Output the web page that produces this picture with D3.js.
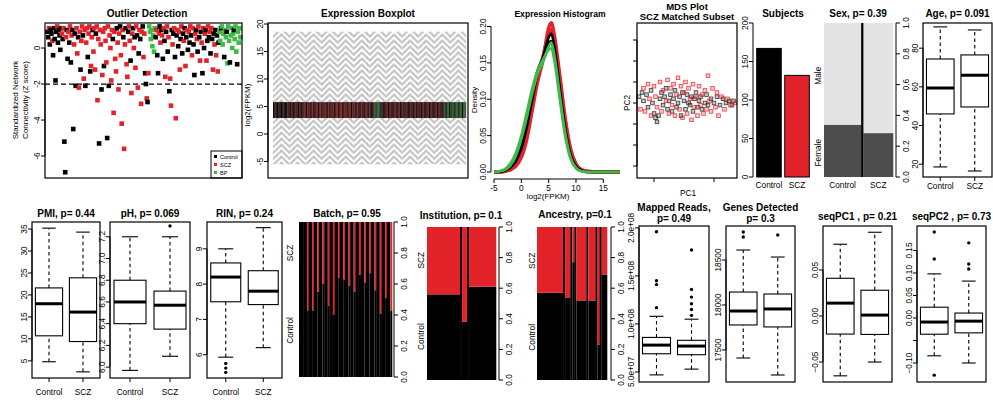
<!DOCTYPE html>
<html>
<head>
<meta charset="utf-8">
<script src="https://cdn.jsdelivr.net/npm/d3@7"></script>
<style>
  body { margin: 0; background: #fff; }
  svg { font-family: "Liberation Sans", Arial, sans-serif; }
</style>
</head>
<body>
<svg width="993" height="400"></svg>
<script>
// ---------- data ----------
const groups = ['Control', 'SCZ'];

// per-sample group (C control, S scz, B bipolar), in plotting order
const sampleGroups = ('CCSCCCSCCCCCSCCCCCSC' + 'SCCSCCSCSCSCCSCCSSCS' + 'SCSSCSSCSSCSSCSSCSSS' +
  'CSSSCSSCSSCSSSCSCSSS' + 'SCSSSSCSSSCSSSCSSCSS' + 'CSSCSSCSCSSCSCSCSSCS' +
  'SCCSCSBBBBBBBBCSCCSC' + 'SCSCSCSCSCSCSSCSCSCS' + 'CSCSSCSCCSCSCSCSCSCS' +
  'SCCSCSCSCSCSCSCSCSCS' + 'CSCSCSCSCSCSCBBCBBBC' + 'BBCBBBCBBBBCBBBCBBBB').split('');

// standardized network connectivity per sample
const zScores = [
  0.9, 0.6, 1.1, 0.2, 1.0, 0.8, 0.4, -0.4, 1.1, 0.5, -1.8, 0.9, 1.2, 0.3, 1.0, 0.7, -0.1, 1.1, 0.8, 0.5,
  1.1, -5.2, -6.9, 0.6, 1.0, -0.6, 0.9, 0.3, 1.2, -0.8, 0.7, 1.0, -4.5, 0.2, 0.8, -2.1, 1.1, -0.3, 0.6, -2.2,
  0.9, -1.2, 0.4, 1.2, 0.7, -1.7, 1.0, -2.1, 0.3, 1.1, -0.5, 0.8, 1.2, -1.3, -1.0, 0.6, 1.0, -0.2, 1.1, -1.2,
  0.8, 1.2, -2.9, 0.5, -5.3, 1.0, 0.2, -2.3, -1.5, 0.9, -1.0, 1.1, 0.4, -0.8, -5.0, 1.2, -2.1, 0.7, 0.0, -1.8,
  1.0, 0.5, -3.6, 0.9, -0.6, -1.3, 1.1, 0.3, -2.3, 0.8, 1.2, -0.4, -4.2, 1.0, 0.6, -5.6, 0.2, 1.1, -0.9, -1.6,
  0.9, 1.2, 0.4, -0.7, -2.5, 0.8, 1.1, 0.0, 0.6, -1.1, 1.2, 0.7, -2.2, -0.3, 1.0, 0.5, -3.1, 0.9, 1.2, -0.5,
  0.8, -1.4, -2.0, -2.8, -3.0, -1.4, 1.2, 0.9, 0.5, 1.0, 0.1, 0.7, -0.2, 1.1, 0.6, 1.0, -0.4, -1.4, 0.8, 1.2,
  0.3, 1.0, 0.7, -0.6, 1.1, 0.4, -1.6, 0.9, 1.2, -0.2, 0.6, -2.4, -1.7, -3.2, 1.0, 0.2, 0.8, 1.1, -0.5, -3.9,
  0.7, 1.0, 0.1, 0.9, -1.2, 0.5, 1.2, -0.3, 0.8, 0.4, 1.1, -1.0, 0.6, 1.0, -0.1, 0.9, 0.3, 1.2, 0.7, -0.4,
  1.1, 0.2, -1.5, 0.8, 1.0, 0.5, -0.2, 1.2, 0.6, -0.7, 0.9, 0.3, -1.4, 1.1, 0.0, 0.8, 1.0, -0.7, 0.4, 1.2,
  0.6, 0.9, -0.3, 1.1, 0.5, -1.2, 0.8, 0.2, 1.0, -0.4, 0.7, -1.3, 0.3, 0.9, 0.4, 1.1, 1.2, 0.2, 0.8, -0.5,
  1.0, 0.6, 0.9, -0.85, 1.2, 0.4, -0.8, 0.7, 1.1, 0.0, 0.8, 1.0, 0.5, 1.2, -0.2, -0.9, 0.9, 0.3, 1.1, 0.6
];

// expression boxplot, same stats for each sample: lo, q1, median, q3, hi (log2 FPKM)
const exprBox = [-5.5, 2.9, 4.4, 5.8, 18.6];

// density curves
const densX = [-5, -4, -3, -2, -1, 0, 1, 2, 3, 4, 5, 5.5, 6, 7, 8, 9, 10, 11, 12, 14, 18];
const densSCZ = [
  [0, 0, 0.001, 0.003, 0.008, 0.02, 0.045, 0.085, 0.125, 0.155, 0.198, 0.205, 0.19, 0.135, 0.075, 0.032, 0.011, 0.003, 0.001, 0, 0],
  [0, 0, 0.001, 0.004, 0.011, 0.026, 0.052, 0.09, 0.13, 0.16, 0.19, 0.196, 0.182, 0.13, 0.072, 0.03, 0.01, 0.003, 0.001, 0, 0]
];
const densControl = [
  [0, 0, 0.002, 0.006, 0.015, 0.032, 0.062, 0.1, 0.135, 0.158, 0.185, 0.19, 0.175, 0.118, 0.062, 0.024, 0.008, 0.002, 0, 0, 0],
  [0, 0.001, 0.003, 0.009, 0.02, 0.04, 0.072, 0.11, 0.14, 0.158, 0.178, 0.18, 0.165, 0.11, 0.057, 0.021, 0.007, 0.002, 0, 0, 0]
];
const densBP = [
  [0, 0.001, 0.003, 0.009, 0.022, 0.045, 0.075, 0.108, 0.135, 0.152, 0.172, 0.178, 0.163, 0.108, 0.055, 0.02, 0.006, 0.001, 0, 0, 0],
  [0, 0.001, 0.004, 0.012, 0.026, 0.05, 0.082, 0.115, 0.14, 0.155, 0.168, 0.17, 0.155, 0.102, 0.05, 0.018, 0.005, 0.001, 0, 0, 0]
];

// MDS (PC1, PC2)
const mdsControl = [[-30,3],[-28,5],[-27,1],[-25,4],[-24,-2],[-22,6],[-21,0],[-20,-5],[-19,-7],[-18,-9],[-17,-6],[-16,2],
  [-15,5],[-14,-1],[-13,3],[-12,7],[-11,-3],[-10,1],[-9,4],[-8,-4],[-7,2],[-6,6],[-5,-2],[-4,0],[-3,3],[-2,-6],[-1,5],
  [0,1],[1,-3],[2,4],[3,0],[4,-1],[5,3],[6,-4],[7,2],[8,5],[9,-2],[10,1],[11,3],[12,-3],[14,0],[15,4],[16,-1],[18,2],
  [20,0],[22,3],[24,-1],[26,2],[28,0],[30,1],[32,-1],[33,1]];
const mdsSCZ = [[-29,-3],[-27,7],[-26,-4],[-24,9],[-23,2],[-22,-6],[-20,8],[-19,3],[-18,-2],[-16,10],[-15,-4],[-14,6],
  [-12,1],[-11,11],[-10,-5],[-9,7],[-8,-1],[-7,9],[-6,-6],[-5,4],[-4,12],[-3,-3],[-2,8],[-1,-7],[0,5],[1,10],[2,-5],
  [3,7],[4,2],[5,-8],[6,9],[7,-2],[8,3],[9,-6],[10,8],[11,-1],[12,4],[13,-5],[14,6],[15,-3],[16,13],[17,1],[18,-4],
  [19,7],[21,-2],[22,5],[23,-6],[25,3],[27,-3],[29,2],[31,-1],[34,0]];

const subjectCounts = [167, 132];
const sexFemaleFrac = [0.34, 0.285];

// boxplot stats: lo whisker, q1, median, q3, hi whisker
const ageControl = [18.6, 46, 59.4, 74.4, 91];
const ageSCZ = [16.5, 49.6, 66, 76.5, 89.4];
const pmiControl = [4.8, 10.7, 18, 21.6, 35.2];
const pmiSCZ = [2.5, 9.4, 16.1, 23.9, 34.3];
const phControl = [5.97, 6.4, 6.6, 6.8, 7.2];
const phSCZ = [6.1, 6.35, 6.57, 6.7, 7.2];
const phOutSCZ = [7.3];
const rinControl = [5.93, 7.5, 8.2, 8.6, 9.0];
const rinSCZ = [6.2, 7.42, 7.8, 8.38, 9.6];
const rinOutControl = [5.75, 5.62, 5.5];
const readsControl = [4.7e7, 6.9e7, 7.8e7, 8.6e7, 1.08e8];
const readsSCZ = [5.3e7, 6.8e7, 7.7e7, 8.3e7, 1.05e8];
const readsOutControl = [1.17e8, 1.41e8, 1.45e8, 1.96e8];
const readsOutSCZ = [1.09e8, 1.15e8, 1.21e8, 1.28e8, 1.36e8, 1.77e8];
const genesControl = [17411, 17778, 17933, 18144, 18611];
const genesSCZ = [17222, 17756, 17956, 18122, 18533];
const genesOutControl = [18811, 18756];
const genesOutSCZ = [18778];
const pc1Control = [-0.065, -0.0196, 0.014, 0.041, 0.078];
const pc1SCZ = [-0.05, -0.02, 0.001, 0.028, 0.091];
const pc2Control = [-0.084, -0.036, -0.009, 0.024, 0.098];
const pc2SCZ = [-0.1, -0.033, -0.007, 0.011, 0.082];
const pc2OutControl = [0.191, 0.131, -0.127];
const pc2OutSCZ = [0.167, 0.12, 0.109];

// spineplots: group sizes and fraction of controls
const batchSizes = [42, 14, 16, 15, 17, 15, 16, 14, 17, 15, 16, 18, 15, 14, 16, 17, 15, 16];
const batchCtrlFrac = [1.0, 0.43, 0.43, 0.55, 0.6, 0.46, 0.40, 0.64, 0.63, 0.59, 0.55, 0.66, 0.61, 0.67, 0.56, 0.41, 0.51, 0.43];
const instSizes = [152, 23, 124];
const instCtrlFrac = [0.56, 0.38, 0.61];
const ancSizes = [134, 27, 11, 51, 37, 11, 27];
const ancCtrlFrac = [0.57, 0.54, 0.77, 0.52, 0.52, 0.23, 0.69];

// ---------- drawing ----------
const svg = d3.select('svg');
const red = '#e3232a', green = '#3dbb46';
const grpColor = {C: '#000', S: red, B: green};
const TICK_FONT = 8.3;

function title(lines, cx, y, size) {
  lines.forEach((t, k) => svg.append('text')
    .attr('x', cx).attr('y', y + k * size * 1.12)
    .attr('text-anchor', 'middle').attr('font-weight', 'bold').attr('font-size', size)
    .text(t));
}

function frame(x0, y0, x1, y1) {
  svg.append('rect').attr('x', x0).attr('y', y0).attr('width', x1 - x0).attr('height', y1 - y0)
    .attr('fill', 'none').attr('stroke', '#000').attr('stroke-width', 1.2);
}

// R style axis: rotated labels, line only between outer ticks
function yAxis(scale, x, ticks, fmt, side) {
  const g = svg.append('g');
  g.append('line').attr('x1', x).attr('x2', x)
    .attr('y1', scale(d3.min(ticks))).attr('y2', scale(d3.max(ticks)))
    .attr('stroke', '#000');
  g.selectAll('line.tk').data(ticks).join('line').attr('class', 'tk')
    .attr('x1', x).attr('x2', x + side * 4)
    .attr('y1', d => scale(d)).attr('y2', d => scale(d))
    .attr('stroke', '#000');
  if (!fmt) return;
  g.selectAll('text').data(ticks).join('text')
    .attr('transform', d => `translate(${side < 0 ? x - 5.5 : x + 13},${scale(d)}) rotate(-90)`)
    .attr('text-anchor', 'middle').attr('font-size', TICK_FONT)
    .text(fmt);
}

function vlabel(text, x, y, size) {
  svg.append('text').attr('transform', `translate(${x},${y}) rotate(-90)`)
    .attr('text-anchor', 'middle').attr('font-size', size).text(text);
}

function boxPanel(o) {
  const x = d3.scaleLinear().domain([0.5, 2.5]).range([o.x0, o.x1]);
  const y = d3.scaleLinear().domain(o.domain).range([o.y1, o.y0]);
  const hw = x(1.4) - x(1);
  const g = svg.append('g');
  o.stats.forEach((s, k) => {
    const cx = x(k + 1);
    [[s[0], s[1]], [s[3], s[4]]].forEach(([a, b]) => g.append('line')
      .attr('x1', cx).attr('x2', cx).attr('y1', y(a)).attr('y2', y(b))
      .attr('stroke', '#000').attr('stroke-width', 1.1).attr('stroke-dasharray', '3.5,3'));
    [s[0], s[4]].forEach(v => g.append('line')
      .attr('x1', cx - hw / 2).attr('x2', cx + hw / 2).attr('y1', y(v)).attr('y2', y(v))
      .attr('stroke', '#000').attr('stroke-width', 1.1));
    g.append('rect').attr('x', cx - hw).attr('width', 2 * hw)
      .attr('y', y(s[3])).attr('height', y(s[1]) - y(s[3]))
      .attr('fill', '#fff').attr('stroke', '#000').attr('stroke-width', 1.1);
    g.append('line').attr('x1', cx - hw).attr('x2', cx + hw).attr('y1', y(s[2])).attr('y2', y(s[2]))
      .attr('stroke', '#000').attr('stroke-width', 3);
    g.selectAll(null).data(o.outs ? o.outs[k] : []).join('circle')
      .attr('cx', cx).attr('cy', d => y(d)).attr('r', 1.7).attr('fill', '#000');
  });
  frame(o.x0, o.y0, o.x1, o.y1);
  yAxis(y, o.x0, o.ticks, o.fmt, -1);
  if (o.labelY) {
    groups.forEach((gname, k) => {
      g.append('line').attr('x1', x(k + 1)).attr('x2', x(k + 1)).attr('y1', o.y1).attr('y2', o.y1 + 4).attr('stroke', '#000');
      g.append('text').attr('x', x(k + 1)).attr('y', o.labelY).attr('text-anchor', 'middle')
        .attr('font-size', TICK_FONT).text(gname);
    });
  }
  title(o.title, (o.x0 + o.x1) / 2, o.titleY, 10);
}

function spinePanel(o) {
  const y = d3.scaleLinear().domain([0, 1]).range([o.y1, o.y0]);
  const total = d3.sum(o.sizes);
  const w = d3.scaleLinear().domain([0, total]).range([0, (o.x1 - o.x0) - o.gap * (o.sizes.length - 1)]);
  const starts = [0, ...d3.cumsum(o.sizes)];
  const g = svg.append('g');
  o.sizes.forEach((s, i) => {
    const left = o.x0 + w(starts[i]) + i * o.gap;
    const wid = w(s);
    g.append('rect').attr('x', left).attr('width', wid + 0.3)
      .attr('y', y(o.fracs[i])).attr('height', o.y1 - y(o.fracs[i])).attr('fill', o.colors[0]);
    g.append('rect').attr('x', left).attr('width', wid + 0.3)
      .attr('y', o.y0).attr('height', y(o.fracs[i]) - o.y0).attr('fill', o.colors[1]);
    if (i < o.sizes.length - 1)
      g.append('rect').attr('x', left + wid).attr('width', o.gap)
        .attr('y', o.y0).attr('height', o.y1 - o.y0).attr('fill', '#000');
    if (o.cats) g.append('text').attr('x', left + wid / 2).attr('y', o.catY).attr('text-anchor', 'middle')
      .attr('font-size', TICK_FONT).text(o.cats[i]);
  });
  yAxis(y, o.axisX, [0, 0.2, 0.4, 0.6, 0.8, 1.0], d3.format('.1f'), 1);
  const overall = d3.sum(o.sizes, (s, i) => s * o.fracs[i]) / total;
  vlabel(o.levels[0], o.labelX, (y(overall) + o.y1) / 2, TICK_FONT);
  vlabel(o.levels[1], o.labelX, (y(overall) + o.y0) / 2, TICK_FONT);
  title(o.title, o.titleX, o.titleY, 10);
}

// ---- Outlier Detection ----
{
  const x = d3.scaleLinear().domain([-3, sampleGroups.length + 1]).range([45, 242]);
  const y = d3.scaleLinear().domain([-7.22, 1.39]).range([178, 23]);
  svg.append('line').attr('x1', 45).attr('x2', 242).attr('y1', y(-2)).attr('y2', y(-2))
    .attr('stroke', '#000').attr('stroke-width', 1.3).attr('stroke-dasharray', '5,3');
  svg.append('g').selectAll('rect').data(zScores).join('rect')
    .attr('x', (d, i) => x(i) - 2.3).attr('y', d => y(d) - 2.3).attr('width', 4.6).attr('height', 4.6)
    .attr('fill', (d, i) => grpColor[sampleGroups[i]]);
  const lg = svg.append('g').attr('transform', 'translate(211,151)');
  lg.append('rect').attr('width', 31).attr('height', 27).attr('fill', '#fff').attr('stroke', '#000');
  [['Control', '#000'], ['SCZ', red], ['BP', green]].forEach(([t, c], k) => {
    lg.append('rect').attr('x', 3).attr('y', 4 + k * 8).attr('width', 3).attr('height', 3).attr('fill', c);
    lg.append('text').attr('x', 9).attr('y', 7.5 + k * 8).attr('font-size', 5.5).text(t);
  });
  frame(45, 23, 242, 178);
  yAxis(y, 45, [-6, -4, -2, 0], d => d, -1);
  vlabel('Standardized Network', 18, 100, 8);
  vlabel('Connectivity (Z score)', 28, 100, 8);
  title(['Outlier Detection'], 147, 17, 10);
}

// ---- Expression Boxplot ----
{
  const x = d3.scaleBand().domain(d3.range(sampleGroups.length)).range([273, 466]);
  const y = d3.scaleLinear().domain([-8.0, 20.18]).range([178, 23]);
  const fills = {C: '#080404', S: '#5e1414', B: '#1f4a22'};
  const g = svg.append('g');
  sampleGroups.forEach((grp, i) => {
    const cx = x(i) + x.bandwidth() / 2;
    const off = Math.abs((i % 20) - 10) * 0.8;
    [[exprBox[0], exprBox[1]], [exprBox[3], exprBox[4]]].forEach(([a, b]) => g.append('line')
      .attr('x1', cx).attr('x2', cx).attr('y1', y(a)).attr('y2', y(b))
      .attr('stroke', '#a3a3a3').attr('stroke-width', 0.6)
      .attr('stroke-dasharray', '3,3').attr('stroke-dashoffset', off));
    g.append('rect').attr('x', x(i)).attr('width', x.bandwidth() + 0.2)
      .attr('y', y(exprBox[3])).attr('height', y(exprBox[1]) - y(exprBox[3]))
      .attr('fill', fills[grp]);
  });
  frame(268, 23, 468, 178);
  yAxis(y, 268, [-5, 0, 5, 10, 15, 20], d => d, -1);
  vlabel('log2(FPKM)', 250, 105, 8);
  title(['Expression Boxplot'], 368, 17, 10);
}

// ---- Expression Histogram ----
{
  const x = d3.scaleLinear().domain([-5, 15]).range([494, 603.3]);
  const y = d3.scaleLinear().domain([0, 0.2]).range([172, 26.5]);
  const line = d3.line().x((d, i) => x(densX[i])).y(d => y(d)).curve(d3.curveMonotoneX);
  const g = svg.append('g').attr('fill', 'none');
  densSCZ.forEach(c => g.append('path').attr('d', line(c)).attr('stroke', red).attr('stroke-width', 3.5));
  densControl.forEach(c => g.append('path').attr('d', line(c)).attr('stroke', '#000').attr('stroke-width', 2.6));
  densBP.forEach(c => g.append('path').attr('d', line(c)).attr('stroke', green).attr('stroke-width', 2.6));
  yAxis(y, 491, [0, 0.05, 0.1, 0.15, 0.2], d3.format('.2f'), -1);
  const ax = svg.append('g');
  ax.append('line').attr('x1', x(-5)).attr('x2', x(15)).attr('y1', 179).attr('y2', 179).attr('stroke', '#000');
  [-5, 0, 5, 10, 15].forEach(t => {
    ax.append('line').attr('x1', x(t)).attr('x2', x(t)).attr('y1', 179).attr('y2', 183).attr('stroke', '#000');
    ax.append('text').attr('x', x(t)).attr('y', 190.5).attr('text-anchor', 'middle').attr('font-size', TICK_FONT).text(t);
  });
  vlabel('Density', 477, 100, 8);
  svg.append('text').attr('x', 548).attr('y', 198.5).attr('text-anchor', 'middle').attr('font-size', 8).text('log2(FPKM)');
  title(['Expression Histogram'], 560, 17, 8.6);
}

// ---- MDS Plot ----
{
  const x = d3.scaleLinear().domain([-20, 20]).range([654, 714]);
  const y = d3.scaleLinear().domain([-30, 30]).range([166, 40]);
  const g = svg.append('g');
  [[mdsControl, '#1a1a1a'], [mdsSCZ, red]].forEach(([pts, c]) => {
    g.selectAll(null).data(pts).join('rect')
      .attr('x', d => x(d[0]) - 1.8).attr('y', d => y(d[1]) - 1.8).attr('width', 3.6).attr('height', 3.6)
      .attr('fill', c).attr('fill-opacity', 0.25).attr('stroke', c).attr('stroke-opacity', 0.85).attr('stroke-width', 0.8);
  });
  frame(637, 23, 737, 178);
  yAxis(y, 637, [-30, -20, -10, 0, 10, 20, 30], null, -1);
  [-20, 20].forEach(t => svg.append('line').attr('x1', x(t)).attr('x2', x(t)).attr('y1', 178).attr('y2', 182).attr('stroke', '#000'));
  svg.append('text').attr('x', 688).attr('y', 196).attr('text-anchor', 'middle').attr('font-size', 8.3).text('PC1');
  vlabel('PC2', 630, 103, 8.3);
  title(['MDS Plot', 'SCZ Matched Subset'], 687, 9.5, 9.5);
}

// ---- Subjects ----
{
  const x = d3.scaleBand().domain(groups).range([755, 811]).paddingInner(0.125).paddingOuter(0.06);
  const y = d3.scaleLinear().domain([0, 200]).range([177, 23]);
  svg.append('g').selectAll('rect').data(subjectCounts).join('rect')
    .attr('x', (d, i) => x(groups[i])).attr('width', x.bandwidth())
    .attr('y', d => y(d)).attr('height', d => y(0) - y(d))
    .attr('fill', (d, i) => i ? red : '#000').attr('stroke', '#000');
  groups.forEach(gname => svg.append('text').attr('x', x(gname) + x.bandwidth() / 2).attr('y', 188)
    .attr('text-anchor', 'middle').attr('font-size', TICK_FONT).text(gname));
  yAxis(y, 753, [0, 50, 100, 150, 200], d => d, -1);
  title(['Subjects'], 783, 17, 10);
}

// ---- Sex ----
spinePanel({x0: 824, x1: 893, y0: 23, y1: 177, sizes: subjectCounts, fracs: sexFemaleFrac, gap: 2.5,
  colors: ['#4d4d4d', '#e4e4e4'], levels: ['Female', 'Male'], labelX: 821, axisX: 896,
  cats: groups, catY: 188, title: ['Sex, p= 0.39'], titleX: 858, titleY: 17});

// ---- Age ----
boxPanel({x0: 923, x1: 992, y0: 23, y1: 177, domain: [13.4, 93.0], ticks: [20, 40, 60, 80], fmt: d => d,
  stats: [ageControl, ageSCZ], labelY: 188.5, title: ['Age, p= 0.091'], titleY: 17});

// ---- Row 2 boxplots ----
boxPanel({x0: 32, x1: 100, y0: 222, y1: 378, domain: [1.1, 36.6], ticks: [5, 10, 15, 20, 25, 30, 35], fmt: d => d,
  stats: [pmiControl, pmiSCZ], labelY: 395, title: ['PMI, p= 0.44'], titleY: 217});
boxPanel({x0: 110, x1: 190, y0: 222, y1: 378, domain: [5.9, 7.336], ticks: [6.0, 6.2, 6.4, 6.6, 6.8, 7.0, 7.2],
  fmt: d3.format('.1f'), stats: [phControl, phSCZ], outs: [[], phOutSCZ], labelY: 395,
  title: ['pH, p= 0.069'], titleY: 217});
boxPanel({x0: 207, x1: 282, y0: 222, y1: 378, domain: [5.34, 9.76], ticks: [6, 7, 8, 9], fmt: d => d,
  stats: [rinControl, rinSCZ], outs: [rinOutControl, []], labelY: 395, title: ['RIN, p= 0.24'], titleY: 217});

const sci = d => { const [m, e] = d.toExponential(1).split('e'); return m + 'e+' + e.replace('+', '').padStart(2, '0'); };
boxPanel({x0: 639, x1: 709, y0: 226, y1: 382, domain: [3.96e7, 2.02e8], ticks: [5e7, 1e8, 1.5e8, 2e8], fmt: sci,
  stats: [readsControl, readsSCZ], outs: [readsOutControl, readsOutSCZ], title: ['Mapped Reads,', 'p= 0.49'], titleY: 211});
boxPanel({x0: 726, x1: 795, y0: 226, y1: 382, domain: [17144, 18878], ticks: [17500, 18000, 18500], fmt: d => d,
  stats: [genesControl, genesSCZ], outs: [genesOutControl, genesOutSCZ], title: ['Genes Detected', 'p= 0.3'], titleY: 211});
boxPanel({x0: 823, x1: 892, y0: 226, y1: 382, domain: [-0.0717, 0.0978], ticks: [-0.05, 0, 0.05], fmt: d3.format('.2f'),
  stats: [pc1Control, pc1SCZ], title: ['seqPC1 , p= 0.21'], titleY: 220});
boxPanel({x0: 917, x1: 986, y0: 226, y1: 382, domain: [-0.1422, 0.2044], ticks: [-0.1, -0.05, 0, 0.05, 0.1, 0.15],
  fmt: d => d === -0.05 ? '' : d3.format('.2f')(d),
  stats: [pc2Control, pc2SCZ], outs: [pc2OutControl, pc2OutSCZ], title: ['seqPC2 , p= 0.73'], titleY: 220});

// ---- Row 2 spineplots ----
spinePanel({x0: 299, x1: 392, y0: 222, y1: 377, sizes: batchSizes, fracs: batchCtrlFrac, gap: 3.5,
  colors: ['#000', red], levels: ['Control', 'SCZ'], labelX: 293, axisX: 394,
  title: ['Batch, p= 0.95'], titleX: 347, titleY: 217});
spinePanel({x0: 427, x1: 496, y0: 227, y1: 380, sizes: instSizes, fracs: instCtrlFrac, gap: 2,
  colors: ['#000', red], levels: ['Control', 'SCZ'], labelX: 424, axisX: 499,
  title: ['Institution, p= 0.1'], titleX: 461, titleY: 219});
spinePanel({x0: 537, x1: 607, y0: 227, y1: 380, sizes: ancSizes, fracs: ancCtrlFrac, gap: 2,
  colors: ['#000', red], levels: ['Control', 'SCZ'], labelX: 535, axisX: 611,
  title: ['Ancestry, p=0.1'], titleX: 575, titleY: 218});
</script>
</body>
</html>
